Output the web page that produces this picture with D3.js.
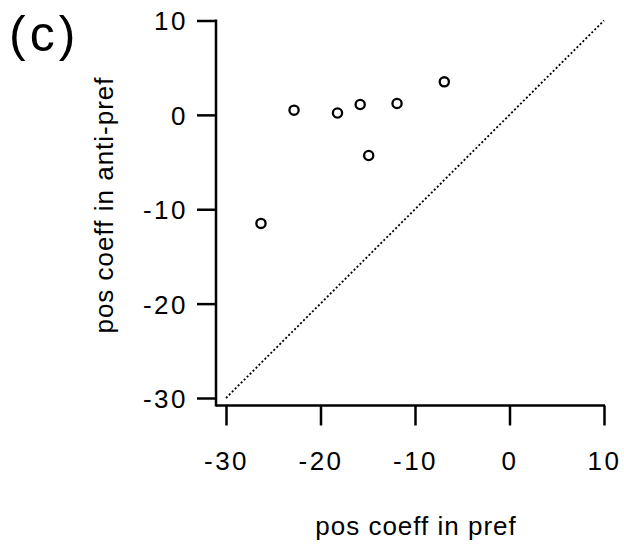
<!DOCTYPE html>
<html>
<head>
<meta charset="utf-8">
<script src="https://cdn.jsdelivr.net/npm/d3@7.9.0/dist/d3.min.js"></script>
<style>
  html, body { margin: 0; padding: 0; background: #fff; }
  svg { display: block; }
</style>
</head>
<body>
<div id="chart"></div>
<script>
// ---------- Data ----------
const prefCoeff     = [-26.3, -22.8, -18.2, -15.8, -14.9, -11.9, -6.9];
const antiPrefCoeff = [-11.5,   0.5,   0.2,   1.1,  -4.3,   1.2,  3.5];
const xTicks = [-30, -20, -10, 0, 10];
const yTicks = [-30, -20, -10, 0, 10];
const axisDomain = [-30, 10];

const FONT = "'Liberation Sans', Arial, Helvetica, sans-serif";
const width = 624, height = 550;

const svg = d3.select("#chart").append("svg")
  .attr("width", width)
  .attr("height", height);

// scales
const x = d3.scaleLinear().domain(axisDomain).range([226, 604]);
const y = d3.scaleLinear().domain(axisDomain).range([398, 20.5]);

// the axes sit a little outside the data area (offset frame)
const xAxisY = 405.5;
const yAxisX = 216;

// plain hyphen minus like the original
const fmt = d => String(d);

// ---- y axis ----
const gy = svg.append("g")
  .attr("transform", `translate(${yAxisX},0)`)
  .call(d3.axisLeft(y).tickValues(yTicks).tickFormat(fmt)
    .tickSize(19).tickPadding(9).tickSizeOuter(0));
gy.select(".domain").remove();
gy.selectAll(".tick line").attr("stroke", "#000").attr("stroke-width", 2.5);
gy.selectAll(".tick text")
  .style("font-family", FONT)
  .style("font-size", "26px")
  .style("letter-spacing", "2.5px")
  .attr("dy", "0.36em");

svg.append("line")
  .attr("x1", yAxisX).attr("x2", yAxisX)
  .attr("y1", y(10) - 1).attr("y2", xAxisY + 1)
  .attr("stroke", "#000").attr("stroke-width", 2.5);

// ---- x axis ----
const gx = svg.append("g")
  .attr("transform", `translate(0,${xAxisY})`)
  .call(d3.axisBottom(x).tickValues(xTicks).tickFormat(fmt)
    .tickSize(20).tickPadding(26).tickSizeOuter(0));
gx.select(".domain").remove();
gx.selectAll(".tick line").attr("stroke", "#000").attr("stroke-width", 2.5);
gx.selectAll(".tick text")
  .style("font-family", FONT)
  .style("font-size", "26px")
  .style("letter-spacing", "2.5px");

svg.append("line")
  .attr("x1", yAxisX).attr("x2", x(10) + 1)
  .attr("y1", xAxisY).attr("y2", xAxisY)
  .attr("stroke", "#000").attr("stroke-width", 2.5);

// ---- identity line ----
svg.append("line")
  .attr("x1", x(-30)).attr("y1", y(-30))
  .attr("x2", x(10)).attr("y2", y(10))
  .attr("stroke", "#000")
  .attr("stroke-width", 1.8)
  .attr("stroke-dasharray", "2,2.2");

// ---- points ----
const points = prefCoeff.map((v, i) => ({ x: v, y: antiPrefCoeff[i] }));
svg.append("g").selectAll("circle")
  .data(points)
  .join("circle")
  .attr("cx", d => x(d.x))
  .attr("cy", d => y(d.y))
  .attr("r", 4.6)
  .attr("fill", "#fff")
  .attr("stroke", "#000")
  .attr("stroke-width", 2.3);

// ---- labels ----
svg.append("text")
  .attr("x", 416).attr("y", 535)
  .attr("text-anchor", "middle")
  .style("font-family", FONT)
  .style("font-size", "26px")
  .style("letter-spacing", "1px")
  .text("pos coeff in pref");

svg.append("text")
  .attr("transform", "translate(113,205) rotate(-90)")
  .attr("text-anchor", "middle")
  .style("font-family", FONT)
  .style("font-size", "26px")
  .style("letter-spacing", "1px")
  .text("pos coeff in anti-pref");

svg.append("text")
  .attr("x", 9).attr("y", 51)
  .style("font-family", FONT)
  .style("font-size", "50px")
  .style("letter-spacing", "4px")
  .text("(c)");
</script>
</body>
</html>
